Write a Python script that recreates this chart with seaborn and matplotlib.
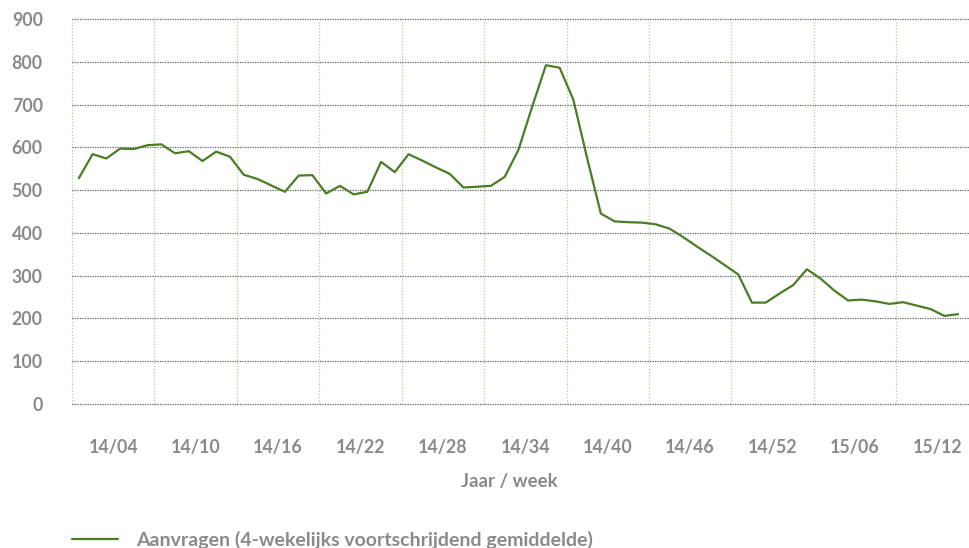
import numpy as np
import pandas as pd
import matplotlib
matplotlib.use("Agg")
import matplotlib.pyplot as plt
import seaborn as sns

# ---------------------------------------------------------------------------
# Weekly values (4-week moving average), week 14/01 .. 15/13
aanvragen = [
    528, 584, 574, 597, 596, 605, 607, 586, 591, 568,
    590, 578, 536, 526, 511, 496, 534, 535, 492, 510,
    490, 496, 566, 542, 584, 569, 553, 538, 506, 508,
    510, 531, 594, 695, 792, 786, 711, 575, 445, 427,
    425, 424, 420, 410, 390, 368, 347, 325, 303, 237,
    237, 258, 278, 315, 293, 265, 242, 244, 240, 234,
    238, 230, 222, 206, 210,
]
week_labels = ["14/04", "14/10", "14/16", "14/22", "14/28", "14/34",
               "14/40", "14/46", "14/52", "15/06", "15/12"]
y_ticks = [0, 100, 200, 300, 400, 500, 600, 700, 800, 900]
series_name = "Aanvragen (4-wekelijks voortschrijdend gemiddelde)"

df = pd.DataFrame({"week": np.arange(len(aanvragen)), "aanvragen": aanvragen})

GREEN = "#4b7d25"
GREY_TXT = "#8a8a8a"

sns.set_style("white")
plt.rcParams["font.family"] = ["Lato", "DejaVu Sans"]

fig = plt.figure(figsize=(9.69, 5.48), dpi=100)
ax = fig.add_axes([72 / 969, 1 - 404 / 548, 1 - 72 / 969, (404 - 19) / 548])

sns.lineplot(data=df, x="week", y="aanvragen", color=GREEN, linewidth=1.6,
             ax=ax, label=series_name, legend=False)

# group boundaries every 6 weeks, labels in the middle of each group
ax.set_xlim(-0.5, 64.8)
ax.set_ylim(0, 900)
ax.set_xticks(np.arange(-0.5, 65, 6))
ax.set_xticklabels([])
ax.set_xticks(np.arange(len(week_labels)) * 6 + 2.5, labels=week_labels, minor=True)
ax.set_yticks(y_ticks)
ax.set_yticklabels([str(v) for v in y_ticks])

ax.grid(False)
ax.yaxis.grid(True, color="#5e5e5e", linestyle=(0, (1, 1)), linewidth=0.9)
ax.xaxis.grid(True, which="major", color="#b3cf98", linestyle=(0, (1, 1.5)), linewidth=0.9)
ax.set_axisbelow(True)
for gl in ax.get_ygridlines() + ax.get_xgridlines():
    gl.set_clip_on(False)
for s in ax.spines.values():
    s.set_visible(False)

ax.tick_params(axis="both", which="both", length=0)
ax.tick_params(axis="y", pad=21, labelsize=12.8, labelcolor=GREY_TXT)
ax.tick_params(axis="x", which="minor", pad=25, labelsize=12.8, labelcolor=GREY_TXT)
for lbl in ax.get_yticklabels() + ax.get_xticklabels(minor=True):
    lbl.set_fontweight("bold")

ax.set_xlabel("")
ax.set_ylabel("")
fig.text(509 / 969, 1 - 481 / 548, "Jaar / week", ha="center", va="center",
         fontsize=13.4, fontweight="bold", color=GREY_TXT)

handles, labels = ax.get_legend_handles_labels()
leg = fig.legend(handles, labels, loc="center left",
                 bbox_to_anchor=(64 / 969, 1 - 540 / 548), frameon=False,
                 handlelength=2.4, handletextpad=0.9, borderaxespad=0,
                 prop={"size": 14, "weight": "bold"})
for t in leg.get_texts():
    t.set_color(GREY_TXT)

fig.savefig("out.png", dpi=100)
plt.close(fig)
